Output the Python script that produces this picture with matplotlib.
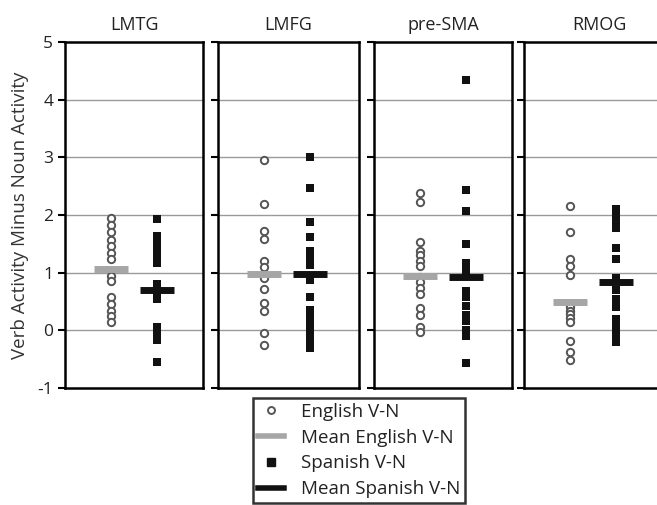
import matplotlib.pyplot as plt
from matplotlib.lines import Line2D

plt.rcParams['font.family'] = ['Open Sans', 'DejaVu Sans']
plt.rcParams['axes.unicode_minus'] = False

regions = ['LMTG', 'LMFG', 'pre-SMA', 'RMOG']

# valores (Verb - Noun)
english_vals = [
    [1.94, 1.83, 1.71, 1.57, 1.46, 1.34, 1.23, 0.95, 0.86, 0.57, 0.46, 0.34, 0.25, 0.14],
    [2.96, 2.19, 1.72, 1.59, 1.2, 1.1, 0.91, 0.72, 0.47, 0.33, -0.04, -0.26],
    [2.39, 2.22, 1.53, 1.38, 1.3, 1.21, 1.11, 0.92, 0.83, 0.73, 0.63, 0.39, 0.26, 0.06, -0.03],
    [2.16, 1.7, 1.24, 1.11, 0.96, 0.4, 0.34, 0.28, 0.22, 0.14, -0.19, -0.37, -0.51],
]
spanish_vals = [
    [1.93, 1.63, 1.51, 1.4, 1.31, 1.17, 0.8, 0.66, 0.54, 0.06, -0.06, -0.17, -0.55],
    [3.0, 2.47, 1.87, 1.61, 1.38, 1.26, 1.14, 0.88, 0.57, 0.36, 0.24, 0.12, 0.0, -0.12, -0.2, -0.3],
    [4.34, 2.44, 2.07, 1.49, 1.17, 1.03, 0.69, 0.57, 0.43, 0.26, 0.17, 0.0, -0.1, -0.57],
    [2.11, 2.0, 1.9, 1.78, 1.43, 1.23, 0.9, 0.7, 0.55, 0.4, 0.2, 0.06, -0.06, -0.2],
]
english_means = [1.07, 0.97, 0.95, 0.5]
spanish_means = [0.7, 0.97, 0.93, 0.83]

yticks = [-1, 0, 1, 2, 3, 4, 5]

fig = plt.figure(figsize=(6.57, 5.05), dpi=100)

# posições dos painéis em pixels (esquerda, largura)
panel_px = [(65, 138), (218, 141), (374, 138), (524, 150)]
top_px, bottom_px = 42, 388
W, H = 657, 505

for i, name in enumerate(regions):
    left, width = panel_px[i]
    ax = fig.add_axes([left / W, 1 - bottom_px / H, width / W, (bottom_px - top_px) / H])
    ax.set_xlim(0, 3 * width / 138)
    ax.set_ylim(-1, 5)
    ax.set_yticks(yticks)
    ax.set_xticks([])
    for y in yticks[1:-1]:
        ax.axhline(y, color='#9a9a9a', lw=1, zorder=0)
    for s in ax.spines.values():
        s.set_linewidth(1.8)
    ax.tick_params(axis='y', direction='out', length=5, width=1.5, labelsize=12.5,
                   labelcolor='#222222')
    if i > 0:
        ax.set_yticklabels([])
    ax.set_title(name, fontsize=13, pad=9, color='#222222')

    ax.scatter([1] * len(english_vals[i]), english_vals[i], s=28, facecolor='white',
               edgecolor='#555555', linewidth=1.4, zorder=3)
    ax.plot([0.62, 1.38], [english_means[i]] * 2, color='#a6a6a6', lw=5,
            solid_capstyle='butt', zorder=4)
    ax.scatter([2] * len(spanish_vals[i]), spanish_vals[i], s=40, marker='s',
               color='#111111', linewidth=0, zorder=3)
    ax.plot([1.64, 2.36], [spanish_means[i]] * 2, color='#111111', lw=5,
            solid_capstyle='butt', zorder=4)

    if i == 0:
        ax.set_ylabel('Verb Activity Minus Noun Activity', fontsize=13.5, color='#333333',
                      labelpad=6)

handles = [
    Line2D([], [], marker='o', ls='none', markerfacecolor='white', markeredgecolor='#555555',
           markeredgewidth=1.4, markersize=5),
    Line2D([], [], color='#a6a6a6', lw=4),
    Line2D([], [], marker='s', ls='none', color='#111111', markersize=6),
    Line2D([], [], color='#111111', lw=4),
]
labels = ['English V-N', 'Mean English V-N', 'Spanish V-N', 'Mean Spanish V-N']
leg = fig.legend(handles, labels, loc='upper left', bbox_to_anchor=(253 / W, 1 - 398 / H),
                 fontsize=13.5, frameon=True, fancybox=False, edgecolor='black',
                 handlelength=1.4, labelspacing=0.42, borderpad=0.25, handletextpad=0.9,
                 borderaxespad=0)
leg.get_frame().set_linewidth(1.8)
for t in leg.get_texts():
    t.set_color('#222222')

fig.savefig('out.png', dpi=100)
